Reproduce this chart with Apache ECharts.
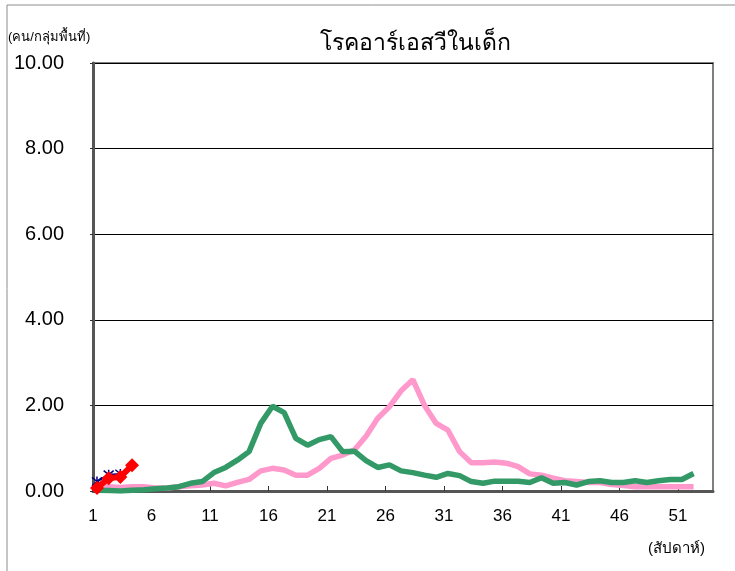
<!DOCTYPE html>
<html>
<head>
<meta charset="utf-8">
<script src="https://cdn.jsdelivr.net/npm/echarts@6/dist/echarts.min.js"></script>
<style>
html,body{margin:0;padding:0;background:#fff;}
#chart{width:735px;height:571px;}
</style>
</head>
<body>
<div id="chart"></div>
<script>
var weeks = [1,2,3,4,5,6,7,8,9,10,11,12,13,14,15,16,17,18,19,20,21,22,23,24,25,26,
             27,28,29,30,31,32,33,34,35,36,37,38,39,40,41,42,43,44,45,46,47,48,49,50,51,52];
var greenValues = [0.02,0.01,0.00,0.02,0.03,0.05,0.07,0.10,0.18,0.22,0.43,0.55,0.72,0.92,1.58,1.98,1.83,1.23,1.07,1.20,
                   1.27,0.92,0.93,0.71,0.55,0.61,0.47,0.43,0.37,0.32,0.41,0.36,0.22,0.18,0.23,0.23,0.23,0.20,0.31,0.18,
                   0.20,0.14,0.22,0.24,0.20,0.20,0.24,0.20,0.24,0.27,0.27,0.41];
var pinkValues = [0.10,0.10,0.08,0.10,0.10,0.07,0.07,0.10,0.12,0.14,0.18,0.12,0.20,0.27,0.47,0.53,0.49,0.37,0.37,0.53,
                  0.76,0.84,0.96,1.28,1.70,1.97,2.34,2.60,2.00,1.58,1.42,0.92,0.66,0.66,0.68,0.65,0.57,0.40,0.37,0.30,
                  0.24,0.22,0.20,0.20,0.15,0.13,0.10,0.10,0.10,0.10,0.10,0.10];
var blueValues = [0.22,0.38,0.40];
var redValues = [0.07,0.30,0.33,0.60];
var yTicks = [0,2,4,6,8,10];
var titleText = 'โรคอาร์เอสวีในเด็ก';
var yName = '(คน/กลุ่มพื้นที่)';
var xName = '(สัปดาห์)';

function pairs(vals){ return vals.map(function(v,i){ return [weeks[i], v]; }); }

var chart = echarts.init(document.getElementById('chart'), null, {renderer:'canvas'});
var fontFam = '"Liberation Sans", "Noto Sans", sans-serif';
var starPath = 'path://M0,0 L10,10 M10,0 L0,10 M5,-1 L5,11';

chart.setOption({
  animation:false,
  backgroundColor:'#ffffff',
  title:{
    text:titleText, left:410, top:27, textAlign:'center',
    textStyle:{fontSize:23, fontWeight:'normal', color:'#000', fontFamily:fontFam}
  },
  grid:{left:93, top:63, right:22, bottom:80, show:true, borderColor:'#7f7f7f', borderWidth:2, backgroundColor:'#fff'},
  xAxis:[{
    type:'value', min:1, max:54, interval:5,
    axisLine:{show:true, onZero:false, lineStyle:{color:'#555', width:3}},
    axisTick:{show:true, inside:true, length:5, lineStyle:{color:'#333', width:1}},
    axisLabel:{color:'#000', fontSize:17, margin:17, fontFamily:fontFam, showMaxLabel:false},
    splitLine:{show:false}
  },{
    type:'value', min:0.66, max:53.66, show:false, splitLine:{show:false}
  }],
  yAxis:{
    type:'value', min:yTicks[0], max:yTicks[yTicks.length-1], interval:2,
    axisLine:{show:true, lineStyle:{color:'#555', width:3}},
    axisTick:{show:true, length:3, lineStyle:{color:'#333'}},
    axisLabel:{color:'#000', fontSize:20, margin:29, fontFamily:fontFam,
      formatter:function(v){ return v.toFixed(2); }},
    splitLine:{show:true, lineStyle:{color:'#000', width:1}}
  },
  graphic:[
    {type:'rect', shape:{x:7, y:5, width:760, height:600}, style:{fill:'none', stroke:'#8c8c8c', lineWidth:1}, silent:true, z:-1},
    {type:'text', left:8, top:31, style:{text:yName, fontSize:13, fill:'#000', fontFamily:fontFam}},
    {type:'text', left:648, top:541, style:{text:xName, fontSize:15, fill:'#000', fontFamily:fontFam}}
  ],
  series:[
    {name:'green', type:'line', xAxisIndex:1, data:pairs(greenValues), showSymbol:false,
      lineStyle:{color:'#339966', width:5.5}, itemStyle:{color:'#339966'}, z:2},
    {name:'pink', type:'line', xAxisIndex:1, data:pairs(pinkValues), showSymbol:false,
      lineStyle:{color:'#ff99cc', width:5.5}, itemStyle:{color:'#ff99cc'}, z:1},
    {name:'blue', type:'line', xAxisIndex:1, data:pairs(blueValues), symbol:starPath, symbolSize:10,
      lineStyle:{color:'#000080', width:2}, itemStyle:{color:'#000080', borderColor:'#000080', borderWidth:1.5}, z:3},
    {name:'red', type:'line', xAxisIndex:1, data:pairs(redValues), symbol:'diamond', symbolSize:14,
      lineStyle:{color:'#ff0000', width:6}, itemStyle:{color:'#ff0000'}, z:4}
  ]
});
</script>
</body>
</html>
